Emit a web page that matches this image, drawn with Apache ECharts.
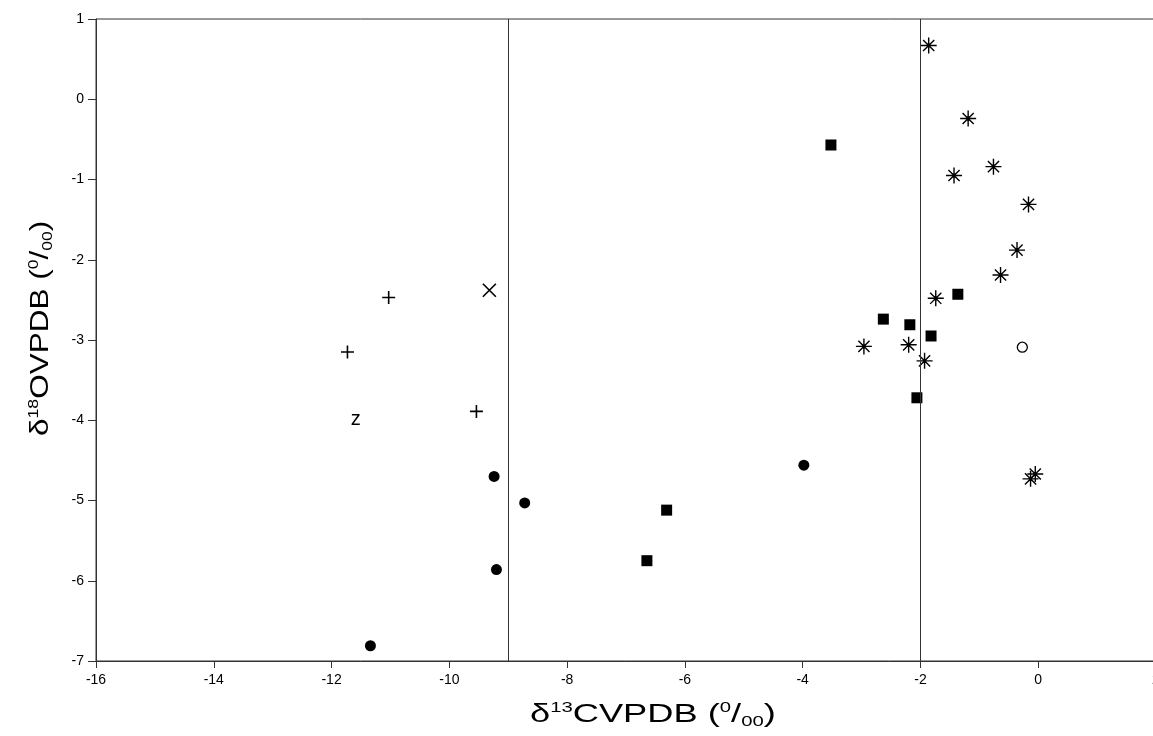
<!DOCTYPE html>
<html>
<head>
<meta charset="utf-8">
<script src="https://cdn.jsdelivr.net/npm/echarts@6/dist/echarts.min.js"></script>
<style>
  html, body { margin: 0; padding: 0; background: #fff; }
  #chart { width: 1153px; height: 736px; }
</style>
</head>
<body>
<div id="chart"></div>
<script>
// Isotope measurements: [δ13C, δ18O] per sample group (‰ VPDB)
const plusPts   = [[-11.03, -2.47], [-11.73, -3.15], [-9.54, -3.89]];
const crossPts  = [[-9.32, -2.38]];
const zPts      = [[-11.59, -4.01]];
const dotPts    = [[-9.24, -4.70], [-8.72, -5.03], [-9.20, -5.86], [-11.34, -6.81], [-3.98, -4.56]];
const squarePts = [[-6.31, -5.12], [-6.645, -5.75], [-3.52, -0.57], [-1.365, -2.43],
                   [-2.63, -2.74], [-2.18, -2.81], [-1.82, -2.95], [-2.06, -3.72]];
const starPts   = [[-1.86, 0.67], [-1.19, -0.24], [-1.43, -0.95], [-0.76, -0.84], [-0.165, -1.31],
                   [-0.36, -1.88], [-0.64, -2.19], [-1.74, -2.48], [-2.96, -3.08], [-2.20, -3.06],
                   [-1.93, -3.26], [-0.05, -4.67], [-0.13, -4.73]];
const openPts   = [[-0.27, -3.09]];

// Vertical reference lines on the δ13C axis
const dividers = [-9, -2];

// Axis settings
const xRange = { min: -16, max: 2, interval: 2 };
const yRange = { min: -7, max: 1, interval: 1 };

const FONT = '"Liberation Sans", Arial, sans-serif';
const AXIS_COLOR = '#333';

const SYM_PLUS  = 'path://M5 0 L5 10 M0 5 L10 5';
const SYM_CROSS = 'path://M0 0 L10 10 M10 0 L0 10';
const SYM_STAR  = 'path://M5 0 L5 10 M0 5 L10 5 M1.5 1.5 L8.5 8.5 M8.5 1.5 L1.5 8.5 ' +
                  'M5 4.1 A0.9 0.9 0 1 1 5 5.9 A0.9 0.9 0 1 1 5 4.1 Z';

const strokeOnly = { color: 'transparent', borderColor: '#000', borderWidth: 1.6, opacity: 1 };

const chart = echarts.init(document.getElementById('chart'), null, { renderer: 'canvas' });

const titleRich = {
  n:   { fontFamily: FONT, fontSize: 25, lineHeight: 28, fill: '#000' },
  sup: { fontFamily: FONT, fontSize: 14, lineHeight: 20, verticalAlign: 'top', fill: '#000' },
  sub: { fontFamily: FONT, fontSize: 14, lineHeight: 16, verticalAlign: 'bottom', fill: '#000' }
};

chart.setOption({
  animation: false,
  backgroundColor: '#fff',
  grid: {
    left: 96, top: 19, width: 1060, bottom: 75,
    containLabel: false, outerBoundsMode: 'none',
    show: true, borderColor: AXIS_COLOR, borderWidth: 1, backgroundColor: 'transparent'
  },
  xAxis: {
    type: 'value',
    min: xRange.min, max: xRange.max, interval: xRange.interval,
    splitLine: { show: false },
    axisLine: { show: true, onZero: false, lineStyle: { color: AXIS_COLOR, width: 1 } },
    axisTick: { show: true, length: 7, lineStyle: { color: AXIS_COLOR } },
    axisLabel: { color: '#000', fontFamily: FONT, fontSize: 14, margin: 12, showMaxLabel: true, hideOverlap: false }
  },
  yAxis: {
    type: 'value',
    min: yRange.min, max: yRange.max, interval: yRange.interval,
    splitLine: { show: false },
    axisLine: { show: true, onZero: false, lineStyle: { color: AXIS_COLOR, width: 1 } },
    axisTick: { show: true, length: 8, lineStyle: { color: AXIS_COLOR } },
    axisLabel: { color: '#000', fontFamily: FONT, fontSize: 14, margin: 12 }
  },
  series: [
    {
      type: 'scatter', data: plusPts, symbol: SYM_PLUS, symbolSize: 13,
      itemStyle: strokeOnly,
      markLine: {
        silent: true, symbol: 'none', label: { show: false },
        lineStyle: { color: AXIS_COLOR, width: 1, type: 'solid', opacity: 1 },
        data: dividers.map(v => ({ xAxis: v }))
      }
    },
    { type: 'scatter', data: crossPts, symbol: SYM_CROSS, symbolSize: 13, itemStyle: strokeOnly },
    {
      type: 'scatter', data: zPts, symbol: 'circle', symbolSize: 1,
      itemStyle: { color: 'transparent', opacity: 1 },
      label: {
        show: true, position: 'inside', formatter: 'z',
        color: '#000', fontFamily: FONT, fontSize: 20, offset: [0, -2]
      }
    },
    { type: 'scatter', data: dotPts, symbol: 'circle', symbolSize: 11, itemStyle: { color: '#000', opacity: 1 } },
    { type: 'scatter', data: squarePts, symbol: 'rect', symbolSize: 11, itemStyle: { color: '#000', opacity: 1 } },
    {
      type: 'scatter', data: starPts, symbol: SYM_STAR, symbolSize: 16,
      itemStyle: { color: '#000', borderColor: '#000', borderWidth: 1.4, opacity: 1 }
    },
    {
      type: 'scatter', data: openPts, symbol: 'circle', symbolSize: 10,
      itemStyle: { color: '#fff', borderColor: '#000', borderWidth: 1.3, opacity: 1 }
    }
  ],
  graphic: [
    {
      type: 'text', x: 530, y: 701, scaleX: 1.45,
      style: {
        text: '{n|δ}{sup|13}{n|CVPDB (}{sup|0}{n|/}{sub|00}{n|)}',
        rich: titleRich, verticalAlign: 'top'
      }
    },
    {
      type: 'text', x: 27, y: 436, rotation: Math.PI / 2, scaleX: 1.26,
      style: {
        text: '{n|δ}{sup|18}{n|OVPDB (}{sup|0}{n|/}{sub|00}{n|)}',
        rich: titleRich, verticalAlign: 'top'
      }
    }
  ]
});
</script>
</body>
</html>
